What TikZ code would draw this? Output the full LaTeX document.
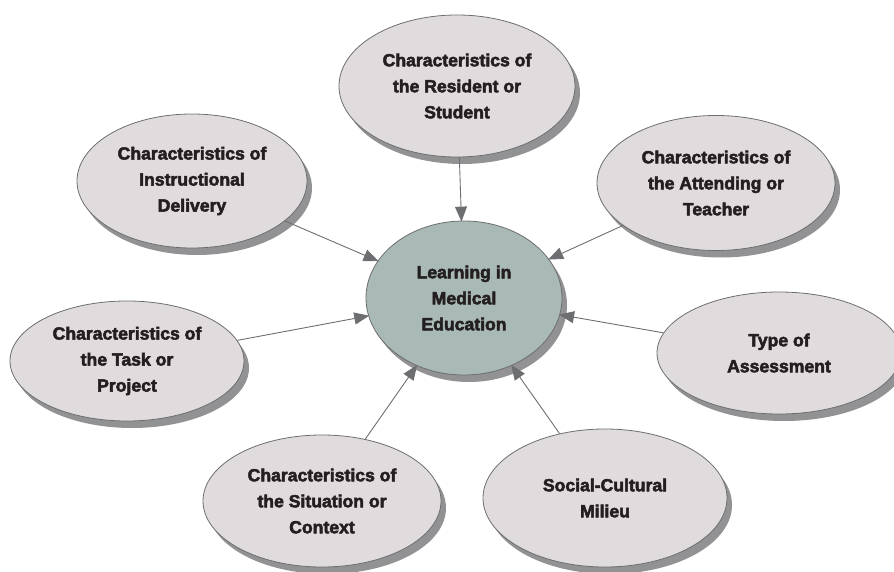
\documentclass[tikz,border=0pt]{standalone}
\usepackage{fontspec}
\setmainfont{Liberation Sans}
\newfontfamily\heavyfont[FakeBold=2.8]{Liberation Sans Bold}
\usetikzlibrary{arrows.meta,shadows,shapes.geometric}

\definecolor{bubblefill}{HTML}{E0DCDD}
\definecolor{hubfill}{HTML}{A9B9B6}
\definecolor{rimgray}{HTML}{6D6E71}
\definecolor{shadowgray}{HTML}{929294}
\definecolor{inkdark}{HTML}{231F20}

\tikzset{
  bubble/.style={ellipse, draw=rimgray, line width=0.8pt, fill=bubblefill,
    inner sep=0pt, align=center, text=inkdark,
    font=\heavyfont\fontsize{17.6}{26}\selectfont,
    drop shadow={shadow xshift=5pt, shadow yshift=-7pt, fill=shadowgray, opacity=1}},
  hub/.style={bubble, fill=hubfill},
  feeds/.style={draw=rimgray, line width=0.9pt,
    -{Triangle[length=15pt,width=12pt]}, shorten >=-1pt}
}

\begin{document}
\begin{tikzpicture}[x=1pt,y=-1pt]
  \useasboundingbox (0,0) rectangle (894,572);

  % central outcome
  \node[hub, minimum width=196pt, minimum height=154pt] (cen) at (464,298)
    {Learning in\\Medical\\Education};

  % surrounding influences
  \node[bubble, minimum width=236pt, minimum height=142pt] (res) at (457,86)
    {Characteristics of\\the Resident or\\Student};
  \node[bubble, minimum width=230pt, minimum height=134pt] (ins) at (192,181)
    {Characteristics of\\Instructional\\Delivery};
  \node[bubble, minimum width=238pt, minimum height=135pt] (att) at (716,183)
    {Characteristics of\\the Attending or\\Teacher};
  \node[bubble, minimum width=244pt, minimum height=122pt] (ass) at (779,353)
    {Type of\\Assessment};
  \node[bubble, minimum width=234pt, minimum height=120pt] (tas) at (127,361)
    {Characteristics of\\the Task or\\Project};
  \node[bubble, minimum width=238pt, minimum height=132pt] (sit) at (322,501)
    {Characteristics of\\the Situation or\\Context};
  \node[bubble, minimum width=244pt, minimum height=138pt] (soc) at (605,498)
    {Social-Cultural\\Milieu};

  % influence arrows into the centre
  \foreach \src in {res,ins,att,ass,tas,sit,soc}
    \draw[feeds] (\src) -- (cen);
\end{tikzpicture}
\end{document}
